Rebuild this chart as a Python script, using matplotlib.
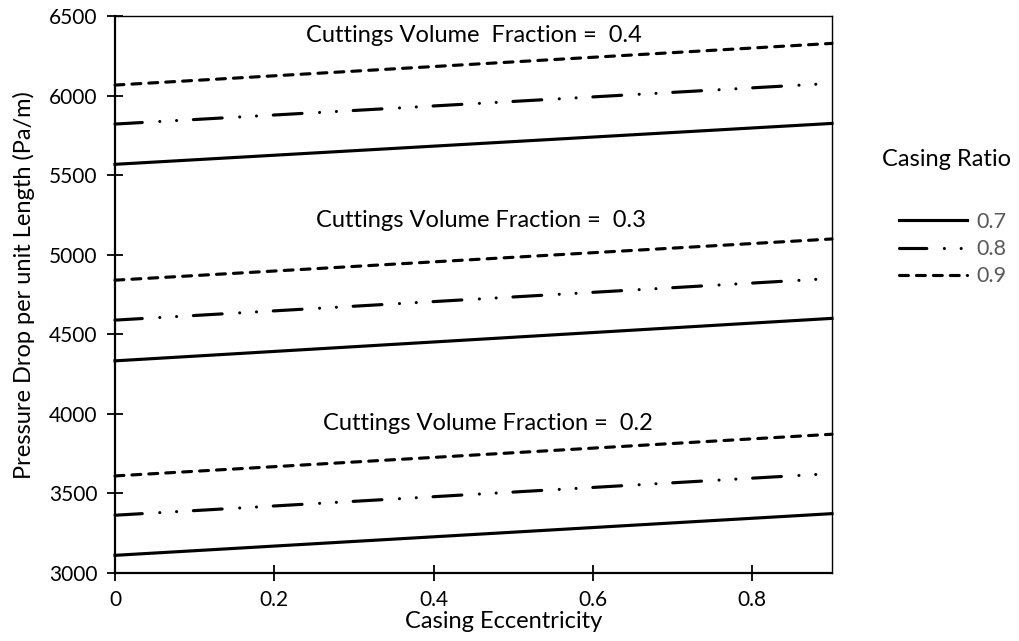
import numpy as np
import matplotlib
matplotlib.use("Agg")
import matplotlib.pyplot as plt

# casing eccentricity (x) and pressure drop (Pa/m)
eccentricity = [0.0, 0.9]
casing_ratios = ["0.7", "0.8", "0.9"]
fractions = ["0.4", "0.3", "0.2"]

# fraction 0.4
cvf04_r07 = [5568, 5825]
cvf04_r08 = [5821, 6077]
cvf04_r09 = [6066, 6328]
# fraction 0.3
cvf03_r07 = [4333, 4600]
cvf03_r08 = [4589, 4851]
cvf03_r09 = [4840, 5099]
# fraction 0.2
cvf02_r07 = [3111, 3373]
cvf02_r08 = [3363, 3625]
cvf02_r09 = [3610, 3872]

x_ticks = [0, 0.2, 0.4, 0.6, 0.8]
x_tick_labels = ["0", "0.2", "0.4", "0.6", "0.8"]
y_ticks = [3000, 3500, 4000, 4500, 5000, 5500, 6000, 6500]

plt.rcParams["font.family"] = ["Lato", "DejaVu Sans"]
plt.rcParams["lines.scale_dashes"] = False

fig = plt.figure(figsize=(10.19, 6.41), dpi=100)
ax = fig.add_axes([115 / 1019, 1 - 573 / 641, (832 - 115) / 1019, (573 - 16) / 641])

lw = 2.25
styles = {
    "0.7": dict(linestyle="-"),
    "0.8": dict(linestyle=(1.1, (20.75, 12.65, 0.01, 12.1, 0.01, 12.1)), dash_capstyle="round"),
    "0.9": dict(linestyle=(0, (6.4, 5.8)), dash_capstyle="round"),
}

groups = [
    (cvf04_r07, cvf04_r08, cvf04_r09),
    (cvf03_r07, cvf03_r08, cvf03_r09),
    (cvf02_r07, cvf02_r08, cvf02_r09),
]
handles = {}
for series in groups:
    for ratio, y in zip(casing_ratios, series):
        (ln,) = ax.plot(eccentricity, y, color="black", lw=lw, clip_on=False, **styles[ratio])
        handles[ratio] = ln

ax.set_xlim(0, 0.9)
ax.set_ylim(3000, 6500)
ax.set_xticks(x_ticks)
ax.set_xticklabels(x_tick_labels)
ax.set_yticks(y_ticks)
ax.tick_params(direction="inout", length=11, width=1.3, labelsize=15, pad=7)
for s in ["left", "bottom"]:
    ax.spines[s].set_linewidth(1.6)
for s in ["top", "right"]:
    ax.spines[s].set_linewidth(1.0)

ax.set_xlabel("Casing Eccentricity", fontsize=17)
ax.xaxis.set_label_coords(0.542, -0.068)
ax.set_ylabel("Pressure Drop per unit Length (Pa/m)", fontsize=17)
ax.yaxis.set_label_coords(-0.112, 0.517)

# group annotations
ax.text(0.45, 6380, "Cuttings Volume  Fraction =  " + fractions[0], ha="center", va="center", fontsize=17)
ax.text(0.459, 5217, "Cuttings Volume Fraction =  " + fractions[1], ha="center", va="center", fontsize=17)
ax.text(0.468, 3941, "Cuttings Volume Fraction =  " + fractions[2], ha="center", va="center", fontsize=17)

fig.text(946.5 / 1019, 1 - 160 / 641, "Casing Ratio", ha="center", va="center", fontsize=17)
leg = fig.legend([handles[r] for r in casing_ratios], casing_ratios,
                 loc="upper left", bbox_to_anchor=(899 / 1019, 1 - 212 / 641),
                 frameon=False, fontsize=15.5, handlelength=3.15, handletextpad=0.45,
                 labelspacing=0.33, borderaxespad=0, borderpad=0)
for t in leg.get_texts():
    t.set_color("#595959")

fig.savefig("out.png", dpi=100)
